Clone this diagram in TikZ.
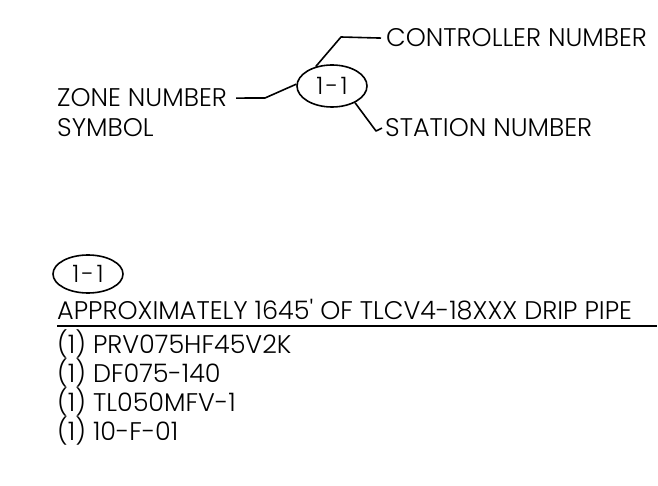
\documentclass[tikz,border=0pt]{standalone}
\usepackage{fontspec}
\IfFontExistsTF{Poppins Light}{\setmainfont{Poppins Light}}{\setmainfont{Poppins}}
\usetikzlibrary{positioning,shapes.geometric}
\begin{document}
\begin{tikzpicture}[x=1pt,y=-1pt,
		lnode/.style={font=\fontsize{25.5}{25.5}\selectfont,inner sep=0pt,anchor=base west},
		sym/.style={draw,ellipse,line width=1.6pt,minimum width=70pt,minimum height=42pt,inner sep=0pt,
			font=\fontsize{24}{24}\selectfont\addfontfeature{LetterSpace=10}},
		lead/.style={line width=1.6pt,line join=round}]
	\useasboundingbox (0,0) rectangle (658,486);
	% legend of the symbol
	\node[sym] (sym) at (332,86) {1-1};
	\node[lnode] (ctrl) at (386,47) {CONTROLLER NUMBER};
	\node[lnode] (zone) at (57,107) {ZONE NUMBER};
	\node[lnode] (symb) at (57,137) {SYMBOL};
	\node[lnode] (stat) at (385,137) {STATION NUMBER};
	\draw[lead] (sym.130) -- (341,37) -- ([xshift=-5pt]ctrl.west);
	\draw[lead] ([xshift=9pt]zone.east) -- (265,98) -- (sym.177);
	\draw[lead] (sym.-36) -- (376,131) -- ([xshift=-3pt]stat.west);
	% zone 1-1
	\node[sym,minimum height=38pt] (sym2) at (88,274) {1-1};
	\node[lnode] (pipe) at (57,319) {APPROXIMATELY 1645\textquotesingle{} OF TLCV4-18XXX DRIP PIPE};
	\draw[lead] ([yshift=-7pt]pipe.base west) -- ++(600,0);
	\foreach \txt [count=\i] in {PRV075HF45V2K, DF075-140, TL050MFV-1, 10-F-01}
		\node[lnode] (item\i) at (57,{324+29*\i}) {(1) \txt};
\end{tikzpicture}
\end{document}
